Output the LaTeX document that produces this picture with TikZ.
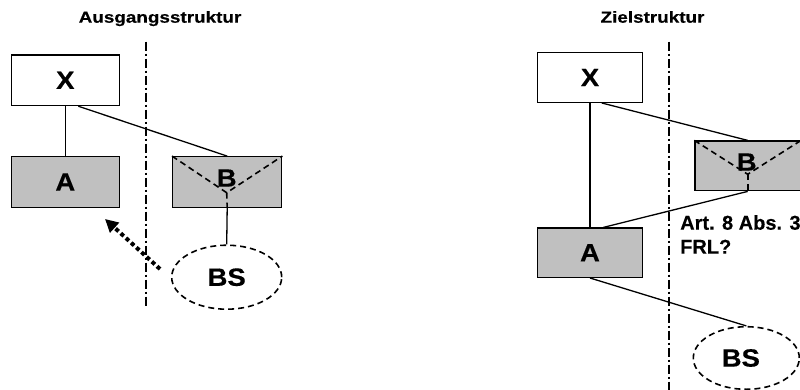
\documentclass[tikz,border=0pt]{standalone}
\usepackage{fontspec}
\setmainfont{Liberation Sans}
\newfontfamily\ttlfont{Liberation Sans}[FakeStretch=1.18,FakeBold=0.4]
\newfontfamily\labfont{Liberation Sans}[FakeStretch=1.1,FakeBold=0.4]
\newfontfamily\notefont{Liberation Sans}[FakeBold=0.3]
\usetikzlibrary{arrows.meta,shapes.geometric}
\definecolor{boxgray}{HTML}{C0C0C0}
\begin{document}
\begin{tikzpicture}[x=1pt,y=-1pt,
  labtext/.style={font=\labfont\bfseries\fontsize{25}{29}\selectfont},
  box/.style={draw=black,line width=1.3pt,minimum width=108pt,minimum height=50.5pt,inner sep=0pt,labtext},
  whitebox/.style={box,fill=white},
  graybox/.style={box,fill=boxgray},
  bsell/.style={ellipse,draw=black,dash pattern=on 6pt off 4pt,line width=1.6pt,inner sep=0pt,labtext},
  conn/.style={line width=1.3pt},
  vdash/.style={line width=1.6pt,dash pattern=on 6pt off 4pt},
  sep/.style={line width=2pt,dash pattern=on 9pt off 3pt on 2pt off 3pt},
  ttl/.style={font=\ttlfont\bfseries\fontsize{16}{19}\selectfont,inner sep=0pt,anchor=base},
  note/.style={font=\notefont\bfseries\fontsize{20}{24}\selectfont,inner sep=0pt,anchor=north west,align=left},
  dotarrow/.style={line width=4pt,dash pattern=on 4pt off 3pt,-{Triangle[length=13pt,width=13pt]}}
]
\useasboundingbox (0,0) rectangle (800,389);
\fill[white] (0,0) rectangle (800,389);

% ---------- left: Ausgangsstruktur ----------
\node[ttl] (t1) at (160,22.7) {Ausgangsstruktur};
\coordinate (s1a) at (145.7,41.7);
\coordinate (s1b) at (145.7,308.3);
\draw[sep] (s1a) -- (s1b);

\node[whitebox] (X1) at (65.3,80.3) {X};
\node[graybox] (A1) at (65.3,182) {A};
\node[graybox,minimum width=109pt] (B1) at (227.2,182) {};
\coordinate (V1) at (226.7,192.7);
\draw[vdash] (B1.north west) -- (V1) -- (B1.north east);
\draw[vdash] (V1) -- (B1.south);
\node[labtext,inner sep=0pt] (Bl1) at (226.7,178) {B};
\node[bsell,minimum width=110pt,minimum height=64pt] (BS1) at (226.7,277.2) {BS};

\draw[conn] (X1.south) -- (A1.north);
\draw[conn] ([xshift=13pt]X1.south) -- (B1.north);
\draw[conn] (B1.south) -- (BS1.north);
\coordinate (arT) at (160,269);
\coordinate (arH) at (105,219);
\draw[dotarrow] (arT) -- (arH);

% ---------- right: Zielstruktur ----------
\node[ttl] (t2) at (652.5,22.7) {Zielstruktur};
\coordinate (s2a) at (669,41.7);
\coordinate (s2b) at (669,392);
\draw[sep] (s2a) -- (s2b);

\node[whitebox,minimum width=105.4pt,minimum height=49.6pt] (X2) at (590,77.5) {X};
\node[graybox,minimum width=105.4pt,minimum height=49.3pt] (A2) at (590,252.7) {A};
\node[graybox,minimum width=105.4pt,minimum height=49.7pt] (B2) at (747.7,165.9) {};
\coordinate (V2) at (747.7,174.3);
\draw[vdash] (B2.north west) -- (V2) -- (B2.north east);
\draw[vdash] (V2) -- (B2.south);
\node[labtext,inner sep=0pt] (Bl2) at (746.7,162) {B};
\node[bsell,minimum width=106pt,minimum height=62.6pt,
  label={[labtext,inner sep=0pt,xshift=-5.5pt]center:BS}] (BS2) at (746.3,358) {};

\draw[conn] (X2.south) -- (A2.north);
\draw[conn] ([xshift=11.7pt]X2.south) -- (B2.north);
\draw[conn] (B2.south) -- ([xshift=13.3pt]A2.north);
\draw[conn] (A2.south) -- (BS2.north);

\node[note] (frl) at (680,215) {Art. 8 Abs. 3\\FRL?};
\end{tikzpicture}
\end{document}
